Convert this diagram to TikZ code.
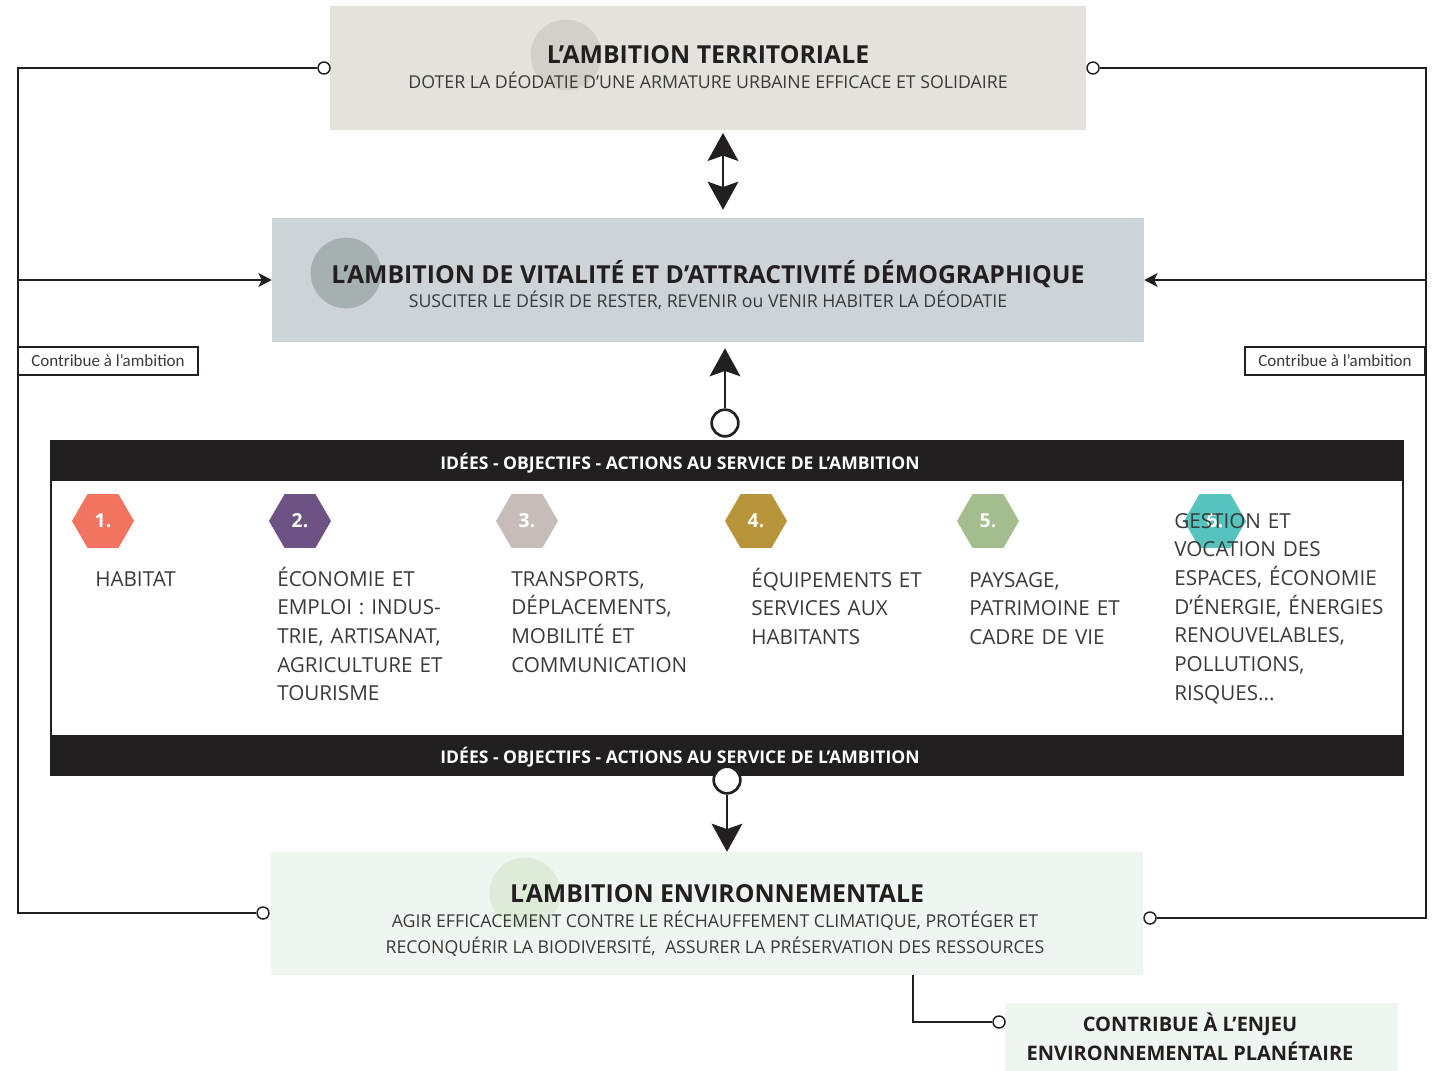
\documentclass[tikz,border=0pt]{standalone}
\usepackage{fontspec}
\setmainfont{Open Sans}
\newfontfamily\labelfont{Carlito}
\usetikzlibrary{arrows.meta,shapes.geometric,positioning}

\definecolor{ink}{HTML}{231F20}
\definecolor{txt}{HTML}{3A3A3A}
\definecolor{terrfill}{HTML}{E5E2DE}
\definecolor{terrdot}{HTML}{D3CFC9}
\definecolor{vitafill}{HTML}{CDD3D6}
\definecolor{vitadot}{HTML}{A6B0B1}
\definecolor{envfill}{HTML}{EFF5EF}
\definecolor{envdot}{HTML}{DDEBD8}
\definecolor{hexa}{HTML}{F37361}
\definecolor{hexb}{HTML}{6D5284}
\definecolor{hexc}{HTML}{C6BDBB}
\definecolor{hexd}{HTML}{B8943B}
\definecolor{hexe}{HTML}{A4BD8E}
\definecolor{hexf}{HTML}{57C3BF}

\begin{document}
\begin{tikzpicture}[x=0.75pt, y=-0.75pt,
  box/.style={inner sep=0, minimum width=654pt, minimum height=93pt},
  deco/.style={circle, inner sep=0, minimum size=53pt},
  title/.style={anchor=base, inner sep=0, text=ink, font=\bfseries\fontsize{18.6}{22}\selectfont},
  sub/.style={anchor=base, inner sep=0, text=txt, align=center, font=\fontsize{13.3}{19.5}\selectfont},
  rail/.style={draw=ink, line width=1.1pt},
  dot/.style={circle, draw=ink, fill=white, line width=1.1pt, inner sep=0, minimum size=9pt},
  tag/.style={draw=ink, fill=white, line width=1.1pt, inner sep=0, minimum width=135pt, minimum height=21pt, text=txt, font=\labelfont\fontsize{12.75}{15}\selectfont},
  hex/.style={regular polygon, regular polygon sides=6, inner sep=0, minimum size=46.5pt, text=white, font=\bfseries\fontsize{14.5}{17}\selectfont},
  item/.style={anchor=base west, inner sep=0, text width=190pt, align=left, text=txt, font=\fontsize{15.5}{21.5}\selectfont},
  band/.style={fill=ink, inner sep=0, minimum width=1014pt, minimum height=30pt},
  bandtxt/.style={anchor=base, inner sep=0, text=white, font=\bfseries\fontsize{13.15}{16}\selectfont},
  ring/.style={circle, draw=ink, fill=white, line width=2pt, inner sep=0, minimum size=20pt},
  big/.style={draw=ink, line width=2pt, -{Stealth[length=21pt,width=23pt,inset=4pt]}},
  small/.style={rail, -{Stealth[length=10pt,width=10.5pt,inset=2.5pt]}}
]
\useasboundingbox (0,0) rectangle (1436,1071);

\node[box, fill=terrfill, minimum width=567pt] (terr) at (708,68) {};
\node[deco, fill=terrdot] (terrc) at (566,55) {};
\node[title] (terrt) at (708,63) {L’AMBITION TERRITORIALE};
\node[sub] (terrs) at (708,88) {DOTER LA DÉODATIE D’UNE ARMATURE URBAINE EFFICACE ET SOLIDAIRE};

\node[box, fill=vitafill] (vita) at (708,280) {};
\node[deco, fill=vitadot] (vitac) at (346,273) {};
\node[title] (vitat) at (708,283) {L’AMBITION DE VITALITÉ ET D’ATTRACTIVITÉ DÉMOGRAPHIQUE};
\node[sub] (vitas) at (708,307) {SUSCITER LE DÉSIR DE RESTER, REVENIR ou VENIR HABITER LA DÉODATIE};

\node[draw=ink, line width=1.5pt, minimum width=1014pt, minimum height=250.5pt] (panel) at (727,608) {};
\node[band] (bandt) at (727,461) {};
\node[bandtxt] at (680,469) {IDÉES - OBJECTIFS - ACTIONS AU SERVICE DE L’AMBITION};
\node[band] (bandb) at (727,755) {};
\node[bandtxt] at (680,763) {IDÉES - OBJECTIFS - ACTIONS AU SERVICE DE L’AMBITION};

\foreach \n/\x/\c in {1/103/hexa, 2/300/hexb, 3/527/hexc, 4/756/hexd, 5/988/hexe, 6/1215/hexf}
  \node[hex, fill=\c] (h\n) at (\x,521) {\n.};

\node[item] (t1) at (95,586) {HABITAT};
\node[item] (t2) at (277,586) {ÉCONOMIE ET\\EMPLOI : INDUS-\\TRIE, ARTISANAT,\\AGRICULTURE ET\\TOURISME};
\node[item] (t3) at (511,586) {TRANSPORTS,\\DÉPLACEMENTS,\\MOBILITÉ ET\\COMMUNICATION};
\node[item] (t4) at (751,587) {ÉQUIPEMENTS ET\\SERVICES AUX\\HABITANTS};
\node[item] (t5) at (969,587) {PAYSAGE,\\PATRIMOINE ET\\CADRE DE VIE};
\node[item] (t6) at (1174,528) {GESTION ET\\VOCATION DES\\ESPACES, ÉCONOMIE\\D’ÉNERGIE, ÉNERGIES\\RENOUVELABLES,\\POLLUTIONS,\\RISQUES...};

\node[box, fill=envfill, minimum height=92.25pt] (env) at (707,913.5) {};
\node[deco, fill=envdot] (envc) at (525,893) {};
\node[title] (envt) at (717,902) {L’AMBITION ENVIRONNEMENTALE};
\node[sub] (envs) at (715,953) {AGIR EFFICACEMENT CONTRE LE RÉCHAUFFEMENT CLIMATIQUE, PROTÉGER ET\\RECONQUÉRIR LA BIODIVERSITÉ,\ \ ASSURER LA PRÉSERVATION DES RESSOURCES};

\node[fill=envfill, inner sep=0, minimum width=294.75pt, minimum height=51pt] (planet) at (1201.5,1037) {};
\node[anchor=base, inner sep=0, align=center, text=ink, font=\bfseries\fontsize{15}{21.5}\selectfont] (planett) at (1190,1060) {CONTRIBUE À L’ENJEU\\ENVIRONNEMENTAL PLANÉTAIRE};

\coordinate (railL) at (18,68);
\coordinate (railR) at (1426,68);
\coordinate (ax) at (723,0);
\coordinate (ex) at (913,0);

\node[dot] (dotTL) at (324,68) {};
\node[dot] (dotBL) at (263,913) {};
\node[dot] (dotTR) at (1093,68) {};
\node[dot] (dotBR) at (1150,918) {};
\node[dot] (dotE) at (999,1022) {};

\draw[rail] (dotTL) -- (railL) |- (dotBL);
\draw[rail] (dotTR) -- (railR) |- (dotBR);
\draw[small] (railL |- vita.west) -- (vita.west);
\draw[small] (railR |- vita.east) -- (vita.east);
\node[tag] (tagL) at (108,361) {Contribue à l’ambition};
\node[tag] (tagR) at (1335,361) {Contribue à l’ambition};

\draw[big, {Stealth[length=21pt,width=23pt,inset=4pt]}-{Stealth[length=21pt,width=23pt,inset=4pt]}, shorten <=2pt, shorten >=6pt] (terr.south -| ax) -- (vita.north -| ax);
\node[ring] (up) at (725,423) {};
\draw[big, shorten >=4.5pt] (up) -- (vita.south -| up);
\node[ring] (down) at (727,780) {};
\draw[big] (down) -- (env.north -| down);

\draw[rail] (env.south -| ex) |- (dotE);
\end{tikzpicture}
\end{document}
